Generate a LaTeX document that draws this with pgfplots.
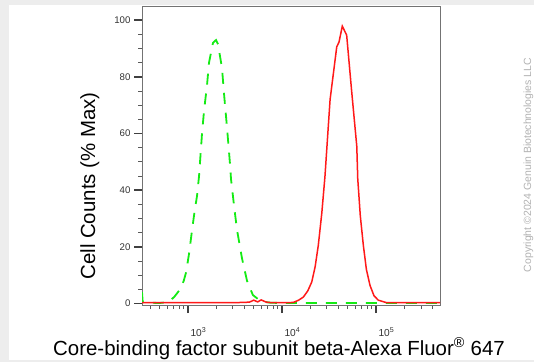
\documentclass[border=0pt]{standalone}
\usepackage{fontspec}
\setmainfont{Liberation Sans}
\usepackage{pgfplots}
\pgfplotsset{compat=1.18}
\definecolor{fgreen}{RGB}{20,235,20}
\definecolor{fred}{RGB}{255,25,25}
\begin{document}
\begin{tikzpicture}
\fill[black!7] (0,0) rectangle (534bp,362bp);
\fill[white] (9bp,2bp) rectangle (534bp,357bp);
\begin{axis}[
  at={(142bp,57bp)}, anchor=south west,
  scale only axis, width=298bp, height=299bp,
  xmode=log, xmin=324, xmax=479000, ymin=-0.5, ymax=105,
  axis line style={black!55, line width=0.9bp},
  xtick={1000,10000,100000},
  xticklabels={10\textsuperscript{3},10\textsuperscript{4},10\textsuperscript{5}},
  minor xtick={400,500,600,700,800,900,2000,3000,4000,5000,6000,7000,8000,9000,20000,30000,40000,50000,60000,70000,80000,90000,200000,300000,400000},
  ytick={0,20,40,60,80,100},
  yticklabels={0,20,40,60,80,100},
  minor ytick={5,10,15,25,30,35,45,50,55,65,70,75,85,90,95},
  tick pos=left, tick align=outside,
  major tick length=8bp, minor tick length=4bp,
  every major tick/.append style={line width=1.6bp, black!75},
  every minor tick/.append style={line width=0.8bp, black!65},
  ticklabel style={font=\fontsize{9.7}{10}\selectfont, text=black!80},
  xticklabel style={anchor=north west, xshift=-1bp, yshift=-11bp, font=\fontsize{10.2}{11}\selectfont},
]
\addplot[fgreen, line width=1.8bp, dash pattern=on 11bp off 9bp] coordinates {
(324,4) (330,0.5) (400,0.3) (500,0.2) (600,0.5) (645,1) (720,2.5) (822,5) (900,8) (953,11) (1030,18) (1104,26) (1180,33) (1247,38) (1310,45) (1409,60) (1480,68) (1592,77) (1672,85) (1844,92) (1986,93) (2085,91.5) (2300,83) (2416,74) (2600,62) (2800,49) (2865,44) (3100,34) (3320,26) (3750,16) (4245,8) (4900,3) (5600,1.5) (6300,0.7) (7500,0.3) (10000,0.2) (20000,0.2) (50000,0.2) (100000,0.2) (479000,0.2)
};
\addplot[fred, line width=1.5bp] coordinates {
(324,0.3) (1000,0.3) (3000,0.3) (4500,0.5) (5000,1.2) (5500,0.6) (6000,1.3) (6800,0.5) (8000,0.3) (10000,0.3) (13180,0.4) (15000,1.2) (16870,2.3) (18800,4.5) (20700,7.6) (22500,13) (24300,20.5) (26500,32) (28640,45) (32450,72) (38200,90.6) (40400,92.3) (43760,97.9) (48700,94.7) (55000,75) (62400,55.5) (63900,44) (68000,31) (73300,20.5) (79000,12) (86300,6.4) (95000,2.8) (105700,1.2) (130000,0.3) (479000,0.3)
};
\end{axis}
\node[rotate=90, anchor=base, font=\fontsize{20.5}{22}\selectfont] at (95bp,176bp) {Cell Counts (\% Max)};
\node[anchor=base, font=\fontsize{20.5}{22}\selectfont] at (279bp,7bp) {Core-binding factor subunit beta-Alexa Fluor\textsuperscript{®} 647};
\node[rotate=90, anchor=base, font=\fontsize{10.5}{11}\selectfont, text=black!30] at (531bp,197bp) {Copyright ©2024 Genuin Biotechnologies LLC};
\pgfresetboundingbox
\useasboundingbox (0,0) rectangle (534bp,362bp);
\end{tikzpicture}
\end{document}
